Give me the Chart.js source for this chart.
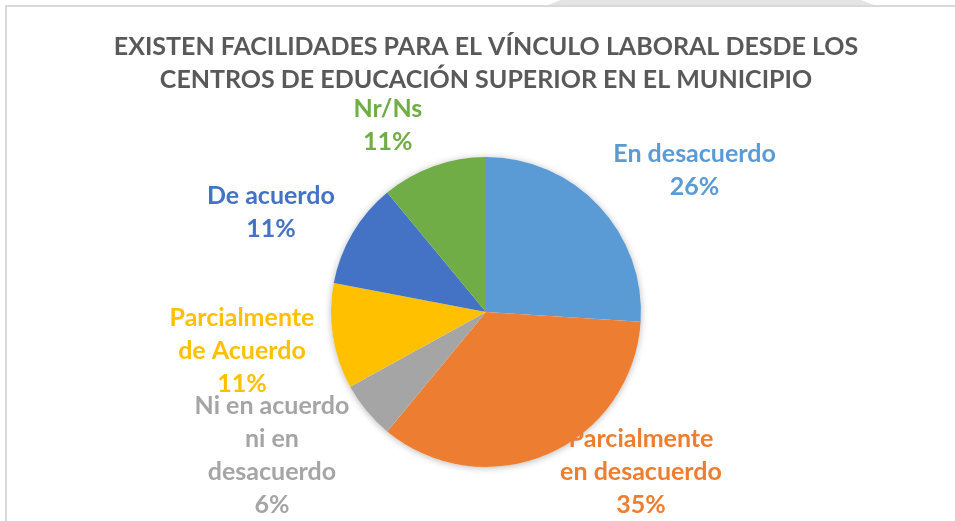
<!DOCTYPE html>
<html>
<head>
<meta charset="utf-8">
<script src="https://cdn.jsdelivr.net/npm/chart.js@4.4.1/dist/chart.umd.min.js"></script>
<style>
  html, body { margin: 0; padding: 0; background: #fff; overflow: hidden; width: 955px; height: 521px; }
  .tab { position: absolute; left: 548px; top: 0; width: 326px; height: 5px; background: #e4e4e4;
         clip-path: polygon(0 100%, 4% 0, 96% 0, 100% 100%); }
  .frame { position: absolute; left: 5px; top: 5px; width: 960px; height: 520px;
           border-top: 2px solid #d9d9d9; border-left: 2px solid #d9d9d9; }
  .frame canvas { display: block; }
</style>
</head>
<body>
<div class="tab"></div>
<div class="frame"><canvas id="myChart" width="958" height="514"></canvas></div>
<script>
// categories and values (percent)
const categories = ["En desacuerdo", "Parcialmente en desacuerdo", "Ni en acuerdo ni en desacuerdo",
  "Parcialmente de Acuerdo", "De acuerdo", "Nr/Ns"];
const values = [26, 35, 6, 11, 11, 11];
const colors = ["#5B9BD5", "#ED7D31", "#A5A5A5", "#FFC000", "#4472C4", "#70AD47"];
const titleLines = ["EXISTEN FACILIDADES PARA EL VÍNCULO LABORAL DESDE LOS",
  "CENTROS DE EDUCACIÓN SUPERIOR EN EL MUNICIPIO"];

// how each data label is wrapped and where it sits (angle nudge in degrees, distance in radii)
const labelWrap = [["En desacuerdo"], ["Parcialmente", "en desacuerdo"], ["Ni en acuerdo", "ni en", "desacuerdo"],
  ["Parcialmente", "de Acuerdo"], ["De acuerdo"], ["Nr/Ns"]];
const labelNudge = [9, -20.7, 5.7, 0, -5.7, -7.9];
const labelDist = [1.627, 1.437, 1.664, 1.594, 1.53, 1.362];

const fontFamily = "Lato, 'Open Sans', sans-serif";

// soft shadow behind the pie, like the office chart
const pieShadow = {
  id: "pieShadow",
  beforeDatasetsDraw(chart) {
    const arc = chart.getDatasetMeta(0).data[0];
    if (!arc) return;
    const ctx = chart.ctx;
    ctx.save();
    ctx.shadowColor = "rgba(0,0,0,0.28)";
    ctx.shadowBlur = 7;
    ctx.shadowOffsetX = 0;
    ctx.shadowOffsetY = 1;
    ctx.fillStyle = "#fff";
    ctx.beginPath();
    ctx.arc(arc.x, arc.y, arc.outerRadius, 0, Math.PI * 2);
    ctx.fill();
    ctx.restore();
  }
};

const outsideLabels = {
  id: "outsideLabels",
  afterDatasetsDraw(chart) {
    const ctx = chart.ctx;
    const total = values.reduce((s, v) => s + v, 0);
    ctx.save();
    ctx.font = "bold 25px " + fontFamily;
    ctx.textAlign = "center";
    ctx.textBaseline = "middle";
    const lh = 33;
    chart.getDatasetMeta(0).data.forEach((arc, i) => {
      const mid = (arc.startAngle + arc.endAngle) / 2 + labelNudge[i] * Math.PI / 180;
      const d = arc.outerRadius * labelDist[i];
      const x = arc.x + Math.cos(mid) * d;
      const y = arc.y + Math.sin(mid) * d;
      const lines = labelWrap[i].concat([Math.round(values[i] / total * 100) + "%"]);
      const top = y - (lines.length - 1) * lh / 2;
      ctx.fillStyle = colors[i];
      lines.forEach((t, k) => ctx.fillText(t, x, top + k * lh));
    });
    ctx.restore();
  }
};

new Chart(document.getElementById("myChart"), {
  type: "pie",
  data: {
    labels: categories,
    datasets: [{
      data: values,
      backgroundColor: colors,
      borderWidth: 0,
      hoverOffset: 0
    }]
  },
  options: {
    responsive: false,
    animation: false,
    layout: { padding: { top: 0, bottom: 54, left: 0, right: 0 } },
    plugins: {
      legend: { display: false },
      tooltip: { enabled: false },
      title: {
        display: true,
        text: titleLines,
        color: "#595959",
        font: { family: fontFamily, size: 25, weight: "bold", lineHeight: 33 / 25 },
        padding: { top: 23, bottom: 61 }
      }
    }
  },
  plugins: [pieShadow, outsideLabels]
});
</script>
</body>
</html>
